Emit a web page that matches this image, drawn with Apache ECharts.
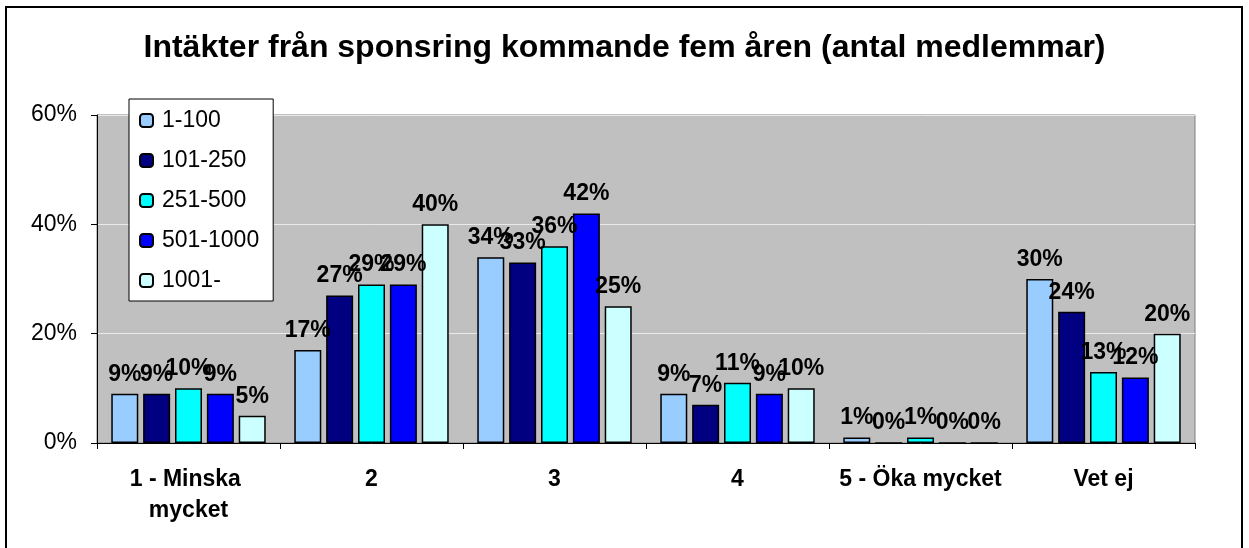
<!DOCTYPE html>
<html>
<head>
<meta charset="utf-8">
<script src="https://cdn.jsdelivr.net/npm/echarts@6/dist/echarts.min.js"></script>
<style>
html,body{margin:0;padding:0;background:#fff;}
#chart{width:1249px;height:548px;}
</style>
</head>
<body>
<div id="chart"></div>
<script>
const titleText = 'Intäkter från sponsring kommande fem åren (antal medlemmar)';
const categories = ['1 - Minska mycket', '2', '3', '4', '5 - Öka mycket', 'Vet ej'];
const seriesNames = ['1-100', '101-250', '251-500', '501-1000', '1001-'];
const s1_100 = [9, 17, 34, 9, 1, 30];
const s101_250 = [9, 27, 33, 7, 0, 24];
const s251_500 = [10, 29, 36, 11, 1, 13];
const s501_1000 = [9, 29, 42, 9, 0, 12];
const s1001 = [5, 40, 25, 10, 0, 20];
const yTicks = [0, 20, 40, 60];

const seriesValues = [s1_100, s101_250, s251_500, s501_1000, s1001];
const colors = ['#99CCFF', '#000080', '#00FFFF', '#0000FF', '#CCFFFF'];
const FONT = '"Liberation Sans", Arial, sans-serif';

const chart = echarts.init(document.getElementById('chart'), null, {renderer: 'canvas'});
chart.setOption({
  backgroundColor: '#ffffff',
  animation: false,
  textStyle: {fontFamily: FONT},
  title: {
    text: titleText,
    left: 'center',
    top: 27,
    textStyle: {fontFamily: FONT, fontSize: 32, fontWeight: 'bold', color: '#000'}
  },
  graphic: [{
    type: 'rect',
    shape: {x: 6, y: 7, width: 1236, height: 560},
    style: {fill: 'none', stroke: '#000', lineWidth: 2},
    silent: true,
    z: 100
  }],
  legend: {
    orient: 'vertical',
    left: 129,
    top: 99,
    padding: [10, 14, 9, 10],
    itemGap: 17,
    itemWidth: 13,
    itemHeight: 13,
    backgroundColor: '#ffffff',
    borderColor: '#000',
    borderWidth: 1,
    textStyle: {fontFamily: FONT, fontSize: 23, color: '#000', padding: [0, 0, 0, 4]},
    data: seriesNames
  },
  grid: {
    left: 97, right: 54, top: 115, bottom: 105,
    show: true,
    backgroundColor: '#C0C0C0',
    borderColor: '#808080',
    borderWidth: 1
  },
  xAxis: {
    type: 'category',
    data: categories,
    axisLine: {lineStyle: {color: '#000', width: 1}},
    axisTick: {show: true, length: 6, lineStyle: {color: '#000'}},
    axisLabel: {
      color: '#000', fontFamily: FONT, fontSize: 23, fontWeight: 'bold',
      margin: 21, lineHeight: 31, width: 176, overflow: 'break', interval: 0
    }
  },
  yAxis: {
    type: 'value',
    min: yTicks[0],
    max: yTicks[yTicks.length - 1],
    interval: 20,
    axisLine: {show: true, lineStyle: {color: '#000', width: 1}},
    axisTick: {show: true, length: 6, lineStyle: {color: '#000'}},
    axisLabel: {color: '#000', fontFamily: FONT, fontSize: 23, margin: 20, formatter: '{value}%'},
    splitLine: {show: true, lineStyle: {color: '#EAEAEA', width: 1}}
  },
  series: seriesNames.map((name, i) => ({
    name: name,
    type: 'bar',
    data: seriesValues[i],
    barWidth: 27,
    barGap: '18%',
    itemStyle: {color: colors[i], borderColor: '#000', borderWidth: 1.5},
    label: {
      show: true,
      position: 'top',
      distance: 8,
      formatter: '{c}%',
      color: '#000',
      fontFamily: FONT,
      fontSize: 23,
      fontWeight: 'bold'
    }
  }))
});
</script>
</body>
</html>
